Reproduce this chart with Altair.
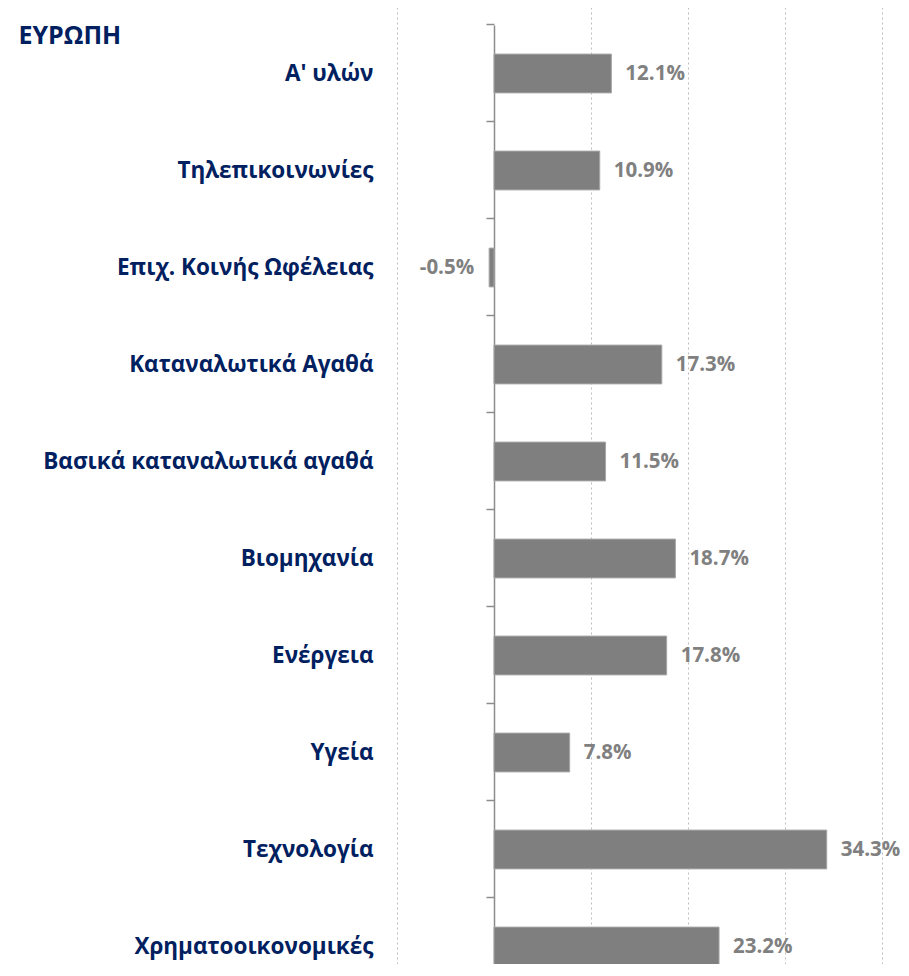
import altair as alt
import pandas as pd

categories = ["A' υλών", "Τηλεπικοινωνίες", "Επιχ. Κοινής Ωφέλειας", "Καταναλωτικά Αγαθά",
              "Βασικά καταναλωτικά αγαθά", "Βιομηχανία", "Ενέργεια", "Υγεία",
              "Τεχνολογία", "Χρηματοοικονομικές"]
values = [12.1, 10.9, -0.5, 17.3, 11.5, 18.7, 17.8, 7.8, 34.3, 23.2]
grid_values = [-10, 10, 20, 30, 40]
title_text = "ΕΥΡΩΠΗ"

df = pd.DataFrame({"cat": categories, "val": values})
df["label"] = [f"{v:.1f}%" for v in values]

W, H = 485, 939          # visible plot area (page is 976 tall)
BAND_RANGE = [0, 970]    # 10 bands of 97px, last one runs past the window edge
FONT = "Open Sans"
NAVY = "#002060"
GRAY = "#808080"

x_scale = alt.Scale(domain=[-10, 40], nice=False, zero=False)
y_scale = alt.Scale(domain=categories, range=BAND_RANGE, paddingInner=0.6, paddingOuter=0.3)

x_enc = alt.X("val:Q", scale=x_scale,
              axis=alt.Axis(values=grid_values, grid=True, gridDash=[2, 3], gridColor="#bdbdbd",
                            gridWidth=1, domain=False, ticks=False, labels=False, title=None))
y_enc = alt.Y("cat:N", scale=y_scale, sort=categories,
              axis=alt.Axis(title=title_text, titleAngle=0, titleAlign="left",
                            titleBaseline="alphabetic", titleX=-476, titleY=18,
                            titleFont=FONT, titleFontSize=25, titleFontWeight="bold",
                            titleColor=NAVY,
                            offset=-97, bandPosition=-0.75, tickSize=8,
                            tickColor="#8c8c8c", tickWidth=1.5, domainColor="#8c8c8c",
                            domainWidth=1.5, labelPadding=113, labelFont=FONT,
                            labelFontWeight="bold", labelFontSize=22.5, labelColor=NAVY,
                            labelLimit=0))

base = alt.Chart(df)
bars = base.mark_bar(color="#7f7f7f", stroke="#a6a6a6", strokeWidth=1).encode(x=x_enc, y=y_enc)

pos = base.transform_filter("datum.val >= 0").mark_text(
    align="left", dx=14, font=FONT, fontWeight="bold", fontSize=20.5, color=GRAY
).encode(x="val:Q", y=alt.Y("cat:N", sort=categories), text="label:N")
neg = base.transform_filter("datum.val < 0").mark_text(
    align="right", dx=-15, font=FONT, fontWeight="bold", fontSize=20.5, color=GRAY
).encode(x="val:Q", y=alt.Y("cat:N", sort=categories), text="label:N")

chart = alt.layer(bars, pos, neg).properties(
    width=W, height=H,
    autosize="none",
    padding={"left": 389, "top": 17, "right": 19, "bottom": 0},
).configure_view(stroke=None)

chart.save("out.html", embed_options={"renderer": "svg", "actions": False})
